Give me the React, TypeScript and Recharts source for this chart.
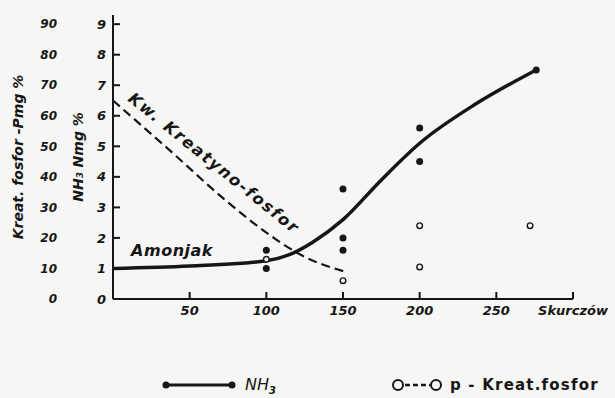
import React from 'react';
import { ComposedChart, Line, Scatter, XAxis, YAxis, ReferenceDot, Legend } from 'recharts';

// values (x = number of contractions)
const xTicks = [0, 50, 100, 150, 200, 250, 300];
const nh3Ticks = [0, 1, 2, 3, 4, 5, 6, 7, 8, 9];
const kreatTicks = [0, 10, 20, 30, 40, 50, 60, 70, 80, 90];

const nh3Curve = [
  { x: 0, y: 1.0 },
  { x: 50, y: 1.08 },
  { x: 100, y: 1.25 },
  { x: 115, y: 1.45 },
  { x: 130, y: 1.85 },
  { x: 150, y: 2.6 },
  { x: 175, y: 3.9 },
  { x: 200, y: 5.1 },
  { x: 237, y: 6.4 },
  { x: 276, y: 7.5 },
];

const kreatCurve = [
  { x: 0, y: 65 },
  { x: 38.5, y: 48 },
  { x: 73, y: 32.5 },
  { x: 104, y: 20.3 },
  { x: 125, y: 13.8 },
  { x: 151, y: 9 },
];

const nh3Points = [
  { x: 100, y: 1.6 },
  { x: 100, y: 1.0 },
  { x: 150, y: 3.6 },
  { x: 150, y: 2.0 },
  { x: 150, y: 1.6 },
  { x: 200, y: 5.6 },
  { x: 200, y: 4.5 },
  { x: 276, y: 7.5 },
];

const kreatPoints = [
  { x: 100, y: 13 },
  { x: 150, y: 6 },
  { x: 200, y: 24 },
  { x: 200, y: 10.5 },
  { x: 272, y: 24 },
];

const ink = '#161616';
const paper = '#f6f6f4';
const hand = {
  fontFamily: '"DejaVu Sans", sans-serif',
  fontStyle: 'italic' as const,
  fontWeight: 'bold' as const,
  fill: ink,
};

const note = (text: string, size: number, angle = 0, spacing = 0) => (props: any) => {
  const { x, y } = props.viewBox;
  return (
    <text
      x={x}
      y={y}
      {...hand}
      fontSize={size}
      letterSpacing={spacing}
      textAnchor="middle"
      dominantBaseline="central"
      transform={`rotate(${angle} ${x} ${y})`}
    >
      {text}
    </text>
  );
};

const FilledDot = (props: any) => <circle cx={props.cx} cy={props.cy} r={3.5} fill={ink} />;
const OpenDot = (props: any) => (
  <circle cx={props.cx} cy={props.cy} r={2.8} fill={paper} stroke={ink} strokeWidth={1.4} />
);

const LegendBox = () => (
  <svg width={615} height={26}>
    <circle cx={166} cy={13} r={3.5} fill={ink} />
    <line x1={168} y1={13} x2={229} y2={13} stroke={ink} strokeWidth={3} />
    <circle cx={232} cy={13} r={3.5} fill={ink} />
    <text x={245} y={18} {...hand} fontWeight="normal" fontSize={16}>
      NH<tspan fontSize={10} dy={4} fontWeight="bold">3</tspan>
    </text>
    <circle cx={398} cy={13} r={5} fill="none" stroke={ink} strokeWidth={2} />
    <line x1={405} y1={13} x2={430} y2={13} stroke={ink} strokeWidth={2.5} strokeDasharray="5 3" />
    <circle cx={436} cy={13} r={5} fill="none" stroke={ink} strokeWidth={2} />
    <text
      x={450}
      y={18}
      fontFamily='"DejaVu Sans", sans-serif'
      fontWeight="bold"
      fontSize={15}
      letterSpacing={1.2}
      fill={ink}
    >
      p - Kreat.fosfor
    </text>
  </svg>
);

export default function App() {
  return (
    <div style={{ position: 'absolute', left: 0, top: 0, width: 615, height: 398, background: paper }}>
      <ComposedChart width={615} height={398} margin={{ top: 15, right: 42, bottom: 69, left: 13 }}>
        <XAxis
          dataKey="x"
          type="number"
          domain={[0, 300]}
          ticks={xTicks}
          height={30}
          stroke={ink}
          strokeWidth={2}
          tickSize={-7}
          tickMargin={14}
          tick={{ ...hand, fontSize: 13 }}
          tickFormatter={(v: number) => (v === 0 ? '' : v === 300 ? 'Skurczów' : String(v))}
        />
        <YAxis
          yAxisId="n"
          type="number"
          domain={[0, 9.3]}
          ticks={nh3Ticks}
          width={40}
          stroke={ink}
          strokeWidth={2}
          tickSize={-7}
          tickMargin={14}
          tick={{ ...hand, fontSize: 13 }}
        />
        <YAxis
          yAxisId="p"
          type="number"
          domain={[0, 93]}
          ticks={kreatTicks}
          width={60}
          axisLine={false}
          tickLine={false}
          tickSize={0}
          tickMargin={16}
          tick={{ ...hand, fontSize: 12 }}
        />
        <Line
          yAxisId="n"
          data={nh3Curve}
          dataKey="y"
          type="monotone"
          stroke={ink}
          strokeWidth={3.5}
          dot={false}
          isAnimationActive={false}
        />
        <Line
          yAxisId="p"
          data={kreatCurve}
          dataKey="y"
          type="monotone"
          stroke={ink}
          strokeWidth={2.2}
          strokeDasharray="9 5"
          dot={false}
          isAnimationActive={false}
        />
        <Scatter yAxisId="n" data={nh3Points} dataKey="y" shape={FilledDot} isAnimationActive={false} />
        <Scatter yAxisId="p" data={kreatPoints} dataKey="y" shape={OpenDot} isAnimationActive={false} />
        <ReferenceDot yAxisId="n" x={38.5} y={1.6} r={0} label={{ content: note('Amonjak', 16, 0, 0.5) } as any} />
        <ReferenceDot
          yAxisId="n"
          x={65.9}
          y={4.45}
          r={0}
          label={{ content: note('Kw. Kreatyno-fosfor', 16, 38.8, 1.8) } as any}
        />
        <ReferenceDot
          yAxisId="n"
          x={-22.8}
          y={4.65}
          r={0}
          ifOverflow="visible"
          label={{ content: note('NH₃ Nmg %', 14, -90) } as any}
        />
        <ReferenceDot
          yAxisId="p"
          x={-62}
          y={46.5}
          r={0}
          ifOverflow="visible"
          label={{ content: note('Kreat. fosfor -Pmg %', 14, -90) } as any}
        />
        <Legend
          layout="horizontal"
          verticalAlign="middle"
          align="center"
          wrapperStyle={{ top: 372, left: 0, width: 615 }}
          content={() => <LegendBox />}
        />
      </ComposedChart>
    </div>
  );
}
